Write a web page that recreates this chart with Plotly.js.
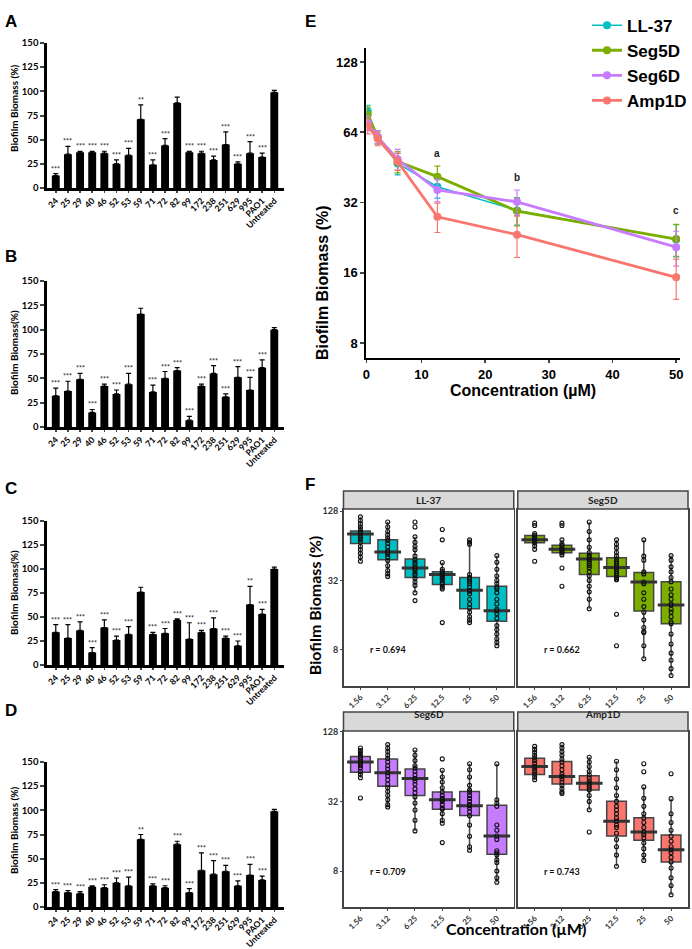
<!DOCTYPE html>
<html>
<head>
<meta charset="utf-8">
<script src="https://cdn.plot.ly/plotly-3.0.1.min.js"></script>
<style>
  html, body { margin: 0; padding: 0; background: #fff; }
  #plot { width: 692px; height: 949px; }
</style>
</head>
<body>
<div id="plot"></div>
<script>
// ---- panels A-D : biofilm biomass per strain ----
var strains = ['24','25','29','40','46','52','53','59','71','72','82','99','172','238','251','629','995','PAO1','Untreated'];

var valsA = [13,35,37,37,36,25,34,71,24,44,88,37,36,29,45,25,36,32,99];
var errA  = [2,8,1,1,2,4,7,15,5,7,6,1,2,4,13,2,12,4,2];
var starsA = ['***','***','***','***','***','***','***','**','***','***','','***','***','***','***','***','***','***',''];

var valsB = [32,37,49,15,42,34,44,116,36,50,58,7,42,55,31,51,38,61,100];
var errB  = [8,10,6,3,2,4,11,6,7,7,3,4,2,8,3,11,13,8,2];
var starsB = ['***','***','***','***','***','***','***','','***','***','***','***','***','***','***','***','***','***',''];

var valsC = [34,28,36,13,39,26,32,76,32,33,47,27,34,38,28,20,63,53,100];
var errC  = [8,14,9,5,8,4,8,5,2,5,1,17,2,11,2,5,19,5,2];
var starsC = ['***','***','***','***','***','***','***','','***','***','***','***','***','***','***','***','**','***',''];

var valsD = [16,15,14,21,20,25,22,70,22,20,65,15,38,34,37,22,33,28,99];
var errD  = [2,2,2,1,3,5,9,5,2,2,3,4,18,14,6,5,11,4,2];
var starsD = ['***','***','***','***','***','***','***','**','***','***','***','***','***','***','***','***','***','***',''];

// ---- panel E : mean biomass vs concentration ----
var conc = [1.56,3.12,6.25,12.5,25,50];
var peptides = ['LL-37','Seg5D','Seg6D','Amp1D'];
var colors = ['#00BFC4','#7CAE00','#C77CFF','#F8766D'];
var meanLL37 = [78.5,61,47,37.4,29.6,22.2];
var meanSeg5D = [76,61,47.9,41.3,29.4,22.3];
var meanSeg6D = [70,61,49,36.2,32.2,20.6];
var meanAmp1D = [68,60,47.9,27.8,23.3,15.3];
var sdLL37 = [5,4,5,4,4,3.5];
var sdSeg5D = [6,4,5,4.5,4,3.5];
var sdSeg6D = [5,4,5,4,4,3.5];
var sdAmp1D = [5,4,4,4,4.7,3];
var letters = ['a','b','c'];
var letterX = [12.5,25,50];
var letterY = [52,41,29.5];

// ---- panel F : box plots per peptide ----
var fConc = ['1.56','3.12','6.25','12.5','25','50'];
var rText = ['r = 0.694','r = 0.662','r = 0.709','r = 0.743'];

var q1LL37 = [67,48.3,34,29.5,18.2,14.2];
var medLL37 = [81,56.5,41,36,26.3,17.5];
var q3LL37 = [86,72,49.2,38.1,34,28.5];
var loLL37 = [47,34.7,25,27,13.8,8.7];
var hiLL37 = [114,103,76.5,45.8,72,52.6];
var ptsLL37 = [
  [114,106,99,93,88.5,84,81.5,79,76,72,68.5,63,59,55,51,47],
  [103,93,85,79.5,74.5,71,67,62.5,58,56,54,51,47.6,43,39,36.6,34.7],
  [103,93,76.5,68.5,63,59,52,48.5,46,44,42,40.5,39,37,35.4,33.3,31,29,25,21.4],
  [88.5,72,45.8,40,38.5,37,36,35,34,33,32,30.5,29.5,28,27,13.8],
  [72,69,66,36,34,33,31.5,30,28,26.3,25.8,24.5,22,20,18.5,17,15.5,14.5,13.8],
  [52.6,46,40,35,32,30,28,27,25,22,20,18,17.5,16.5,15,13,12,11,10,9.3,8.7]
];

var q1Seg5D = [68,55.7,36,34.7,17.4,13.5];
var medSeg5D = [72,59.6,49.2,41.5,31,19.6];
var q3Seg5D = [78.5,64.8,55,50.5,37.6,31.2];
var loSeg5D = [59.6,53.3,18.2,32.5,6.7,4.8];
var hiSeg5D = [81.5,72,103,72,72,52.6];
var ptsSeg5D = [
  [100.5,96,81.5,79,76,74,72,71,70,68,64,59.6,47],
  [100.5,96,72,67,64.5,62,60,59,57,55.5,53.3,41,28.5],
  [103,85,72,62,56,53,51,49.2,47,45,43,41,38,35,32,28.5,25.5,22,18.2],
  [72,66,61,56,52,49,47,45,43,41.5,40,38.5,37,35.5,34,33,32.5,16.3,8.7],
  [72,52,48,38,36.5,31,30,25,22,19,17,14.5,12.5,11.5,11.3,8.7,6.7],
  [52.6,48,42,38,34,31.2,27,24,22,20,19.6,18,17,15.5,14,13.5,11,9,7.5,6.5,5.5,4.8]
];

var q1Seg6D = [57.2,43.2,36,27.3,24.2,11.2];
var medSeg6D = [70,56.5,50.5,33.1,29.4,16.1];
var q3Seg6D = [78,74.5,60.8,38.6,38.9,29.6];
var loSeg6D = [51.2,28.6,17.8,20.7,12.1,6.4];
var hiSeg6D = [92.6,99,89,59.5,67.6,67.6];
var ptsSeg6D = [
  [92.6,88,84,80,77,74,71,70,68,65,62,58,55,51.2,34.2],
  [99,92,86,80,75,70,65,61,56.5,53,49,45,42,39,36,33,30,28.6],
  [89,80,72,65,62,58,54,50.5,48,45,41,38,35,31,27,22,17.8],
  [74.5,59.5,52,47,42,38.6,36,34,33.1,32,30,28,27.3,25,22,20.7,14.1],
  [67.6,60,52,44,40,38.5,36,34,32,30,29.4,28,26,24,20,16,13,12.1],
  [67.6,33,31,29,20,18,16.1,15,12,11.5,11,10,9.5,8,7,6.4]
];

var q1Amp1D = [54.6,45.2,40.2,16.1,14.8,9.6];
var medAmp1D = [64,52.6,45.9,21.6,17.4,12.2];
var q3Amp1D = [75.5,70.7,53.3,32.1,23.1,16.4];
var loAmp1D = [49.2,37.4,27.1,8.8,9.9,5.0];
var hiAmp1D = [95.5,99,77,71,42.7,33.8];
var ptsAmp1D = [
  [95.5,90,85,80,76,72,68,64,61,58,55,52,49.2],
  [99,93,86,80,74,70,65,60,55,52.6,50,47,44,41,38.5,37.4],
  [77,70,64,58,54,51,48,46,44,42,40.2,36,32,27.1,17.4],
  [71,60,50,42,36,32,29,27,25,23,21.6,20,19,17,15,13,11,8.8],
  [67.6,57.6,42.7,34,29,25,23,21,19,17.4,16.5,15.5,14,12.5,11,9.9],
  [55.5,33.8,25,21,18,16,14.5,13,12.2,11.5,10.5,9.6,8.5,7,6,5.0]
];

// ---------------------------------------------------------------
var W = 692, H = 949;
function px(x) { return x / W; }
function py(y) { return 1 - y / H; }

var gill = 'Lato, sans-serif';
var arial = 'Liberation Sans, Arial, sans-serif';

var data = [];
var annotations = [];
var shapes = [];
var layout = {
  width: W, height: H,
  margin: {l: 0, r: 0, t: 0, b: 0},
  paper_bgcolor: 'white', plot_bgcolor: 'white',
  bargap: 0.35,
  showlegend: true,
  legend: {x: 0.852, y: 0.992, xanchor: 'left', yanchor: 'top', bgcolor: 'rgba(0,0,0,0)',
           font: {family: arial, size: 17, weight: 700, color: 'black'}, tracegroupgap: 0}
};

// bar panels
var barPanels = [
  {v: valsA, e: errA, s: starsA, top: 43, bot: 188, ttl: 'Biofilm Biomass (%)', tY: 108, lab: 'A', lY: 10},
  {v: valsB, e: errB, s: starsB, top: 281, bot: 427, ttl: 'Biofilm Biomass(%)', tY: 352, lab: 'B', lY: 245},
  {v: valsC, e: errC, s: starsC, top: 521, bot: 665, ttl: 'Biofilm Biomass(%)', tY: 592, lab: 'C', lY: 488},
  {v: valsD, e: errD, s: starsD, top: 762, bot: 907, ttl: 'Biofilm Biomass (%)', tY: 830, lab: 'D', lY: 722}
];

barPanels.forEach(function(p, i) {
  var n = i + 1;
  var xs = n === 1 ? '' : String(n);
  data.push({
    type: 'bar', x: strains, y: p.v, xaxis: 'x' + xs, yaxis: 'y' + xs,
    marker: {color: 'black'}, showlegend: false,
    error_y: {type: 'data', symmetric: false, array: p.e, arrayminus: p.e.map(function() { return 0; }),
              color: 'black', thickness: 1.2, width: 2.5}
  });
  layout['xaxis' + xs] = {
    domain: [px(47), px(285)], anchor: 'y' + xs, type: 'category', range: [-0.74, 18.78],
    showline: true, linecolor: 'black', linewidth: 2.5, ticks: 'outside', ticklen: 2, tickwidth: 1.5,
    tickangle: -45, tickfont: {family: gill, size: 8.6, weight: 700, color: 'black'},
    showgrid: false, zeroline: false
  };
  layout['yaxis' + xs] = {
    domain: [py(p.bot), py(p.top)], anchor: 'x' + xs, range: [0, 150],
    tickvals: [0,25,50,75,100,125,150],
    showline: true, linecolor: 'black', linewidth: 2.5, ticks: 'outside', ticklen: 4, tickwidth: 2,
    tickfont: {family: gill, size: 9.5, weight: 700, color: 'black'},
    showgrid: false, zeroline: false
  };
  for (var k = 0; k < strains.length; k++) {
    if (!p.s[k]) continue;
    // index position on the category axis
    annotations.push({x: k, y: p.v[k] + p.e[k], xref: 'x' + xs, yref: 'y' + xs,
      text: p.s[k], showarrow: false, yanchor: 'bottom', yshift: -1,
      font: {family: gill, size: 7, weight: 700, color: '#333'}});
  }
  annotations.push({x: px(14), y: py(p.tY), xref: 'paper', yref: 'paper', text: p.ttl,
    xanchor: 'center', yanchor: 'middle', textangle: -90, showarrow: false,
    font: {family: gill, size: 10, weight: 700, color: 'black'}});
  annotations.push({x: px(3), y: py(p.lY), xref: 'paper', yref: 'paper', text: p.lab,
    xanchor: 'left', showarrow: false, font: {family: arial, size: 17, weight: 900, color: 'black'}});
});

// panel E
var means = [meanLL37, meanSeg5D, meanSeg6D, meanAmp1D];
var sds = [sdLL37, sdSeg5D, sdSeg6D, sdAmp1D];
for (var i = 0; i < 4; i++) {
  data.push({
    type: 'scatter', mode: 'lines+markers', x: conc, y: means[i], name: peptides[i],
    xaxis: 'x5', yaxis: 'y5',
    line: {color: colors[i], width: i === 0 ? 1.5 : 2.8},
    marker: {color: colors[i], size: 8},
    error_y: {type: 'data', array: sds[i], color: colors[i], thickness: 1.2, width: 3}
  });
}
layout.xaxis5 = {
  domain: [px(368), px(683)], anchor: 'y5', range: [1.35, 50.6],
  tickvals: [1.35,10,20,30,40,50], ticktext: ['0','10','20','30','40','50'],
  showline: true, linecolor: 'black', linewidth: 2, ticks: 'outside', ticklen: 3, tickwidth: 1.5,
  tickfont: {family: arial, size: 13, weight: 700, color: 'black'}, showgrid: false, zeroline: false
};
layout.yaxis5 = {
  domain: [py(358), py(48)], anchor: 'x5', type: 'log', range: [0.839, 2.167],
  tickvals: [8,16,32,64,128], ticktext: ['8','16','32','64','128'],
  showline: true, linecolor: 'black', linewidth: 2, ticks: 'outside', ticklen: 4, tickwidth: 1.5,
  tickfont: {family: arial, size: 13, weight: 700, color: 'black'}, showgrid: false, zeroline: false
};
for (var j = 0; j < letters.length; j++) {
  annotations.push({x: letterX[j], y: Math.log10(letterY[j]), xref: 'x5', yref: 'y5', text: letters[j],
    showarrow: false, font: {family: arial, size: 10, weight: 700, color: '#222'}});
}
annotations.push({x: px(525), y: py(390), xref: 'paper', yref: 'paper', text: 'Concentration (µM)',
  xanchor: 'center', showarrow: false, font: {family: arial, size: 16, weight: 700, color: 'black'}});
annotations.push({x: px(324), y: py(203), xref: 'paper', yref: 'paper', text: 'Biofilm Biomass (%)',
  xanchor: 'center', textangle: -90, showarrow: false, font: {family: arial, size: 16, weight: 700, color: 'black'}});
annotations.push({x: px(304), y: py(10), xref: 'paper', yref: 'paper', text: 'E', xanchor: 'left',
  showarrow: false, font: {family: arial, size: 17, weight: 900, color: 'black'}});

// panel F
var fq1 = [q1LL37, q1Seg5D, q1Seg6D, q1Amp1D];
var fmed = [medLL37, medSeg5D, medSeg6D, medAmp1D];
var fq3 = [q3LL37, q3Seg5D, q3Seg6D, q3Amp1D];
var flo = [loLL37, loSeg5D, loSeg6D, loAmp1D];
var fhi = [hiLL37, hiSeg5D, hiSeg6D, hiAmp1D];
var fpts = [ptsLL37, ptsSeg5D, ptsSeg6D, ptsAmp1D];
var facets = [
  {l: 345, r: 516, top: 509, bot: 686, stripTop: 491, yr: [0.590, 2.125], left: true},
  {l: 520, r: 691, top: 509, bot: 686, stripTop: 491, yr: [0.590, 2.125], left: false},
  {l: 345, r: 516, top: 731, bot: 907, stripTop: 712, yr: [0.593, 2.113], left: true},
  {l: 520, r: 691, top: 731, bot: 907, stripTop: 712, yr: [0.593, 2.113], left: false}
];

facets.forEach(function(f, i) {
  var n = String(6 + i);
  var xp = [], yp = [];
  fpts[i].forEach(function(arr, c) {
    arr.forEach(function(v) { xp.push(fConc[c]); yp.push(v); });
  });
  data.push({
    type: 'box', x: fConc, q1: fq1[i], median: fmed[i], q3: fq3[i],
    lowerfence: flo[i], upperfence: fhi[i], xaxis: 'x' + n, yaxis: 'y' + n,
    width: 0.72, whiskerwidth: 0, fillcolor: colors[i], boxpoints: false,
    line: {color: '#444', width: 1.5}, showlegend: false, hoverinfo: 'skip'
  });
  data.push({
    type: 'scatter', mode: 'markers', x: fConc, y: fmed[i], xaxis: 'x' + n, yaxis: 'y' + n,
    marker: {symbol: 'line-ew', size: 19, line: {color: '#333', width: 3}}, showlegend: false
  });
  data.push({
    type: 'scatter', mode: 'markers', x: xp, y: yp, xaxis: 'x' + n, yaxis: 'y' + n,
    marker: {symbol: 'circle-open', size: 4, color: '#111', line: {width: 1.1, color: '#111'}},
    showlegend: false
  });
  layout['xaxis' + n] = {
    domain: [px(f.l), px(f.r)], anchor: 'y' + n, type: 'category', range: [-0.62, 5.62],
    showline: true, mirror: true, linecolor: '#444', linewidth: 1.5,
    ticks: 'outside', ticklen: 2, tickcolor: '#444', tickwidth: 1,
    tickangle: -45, tickfont: {family: gill, size: 8, weight: 700, color: '#333'},
    showgrid: false, zeroline: false
  };
  layout['yaxis' + n] = {
    domain: [py(f.bot), py(f.top)], anchor: 'x' + n, type: 'log', range: f.yr,
    tickvals: [8,32,128], ticktext: ['8','32','128'], showticklabels: f.left,
    showline: true, mirror: true, linecolor: '#444', linewidth: 1.5,
    ticks: f.left ? 'outside' : '', ticklen: 2, tickcolor: '#444', tickwidth: 1,
    tickfont: {family: gill, size: 9, weight: 700, color: '#333'},
    showgrid: false, zeroline: false
  };
  shapes.push({type: 'rect', xref: 'paper', yref: 'paper', x0: px(f.l), x1: px(f.r),
    y0: py(f.top), y1: py(f.stripTop), fillcolor: '#D9D9D9', line: {color: '#444', width: 1.5}});
  annotations.push({x: px((f.l + f.r) / 2), y: py((f.top + f.stripTop) / 2), xref: 'paper', yref: 'paper',
    xanchor: 'center', text: peptides[i], showarrow: false,
    font: {family: gill, size: 10, weight: 700, color: '#222'}});
  annotations.push({x: 1, y: Math.log10(8), xref: 'x' + n, yref: 'y' + n, text: rText[i],
    showarrow: false, font: {family: gill, size: 9, weight: 700, color: '#111'}});
});

annotations.push({x: px(518), y: py(940), xref: 'paper', yref: 'paper', text: 'Concentration (µM)',
  xanchor: 'center', showarrow: false, font: {family: gill, size: 16, weight: 700, color: 'black'}});
annotations.push({x: px(316), y: py(677), xref: 'paper', yref: 'paper', text: 'Biofilm Biomass (%)',
  xanchor: 'center', textangle: -90, showarrow: false, font: {family: gill, size: 16, weight: 700, color: 'black'}});
annotations.push({x: px(304), y: py(484), xref: 'paper', yref: 'paper', text: 'F', xanchor: 'left',
  showarrow: false, font: {family: arial, size: 17, weight: 900, color: 'black'}});

layout.annotations = annotations;
layout.shapes = shapes;

Plotly.newPlot('plot', data, layout, {displayModeBar: false, staticPlot: true});
</script>
</body>
</html>
